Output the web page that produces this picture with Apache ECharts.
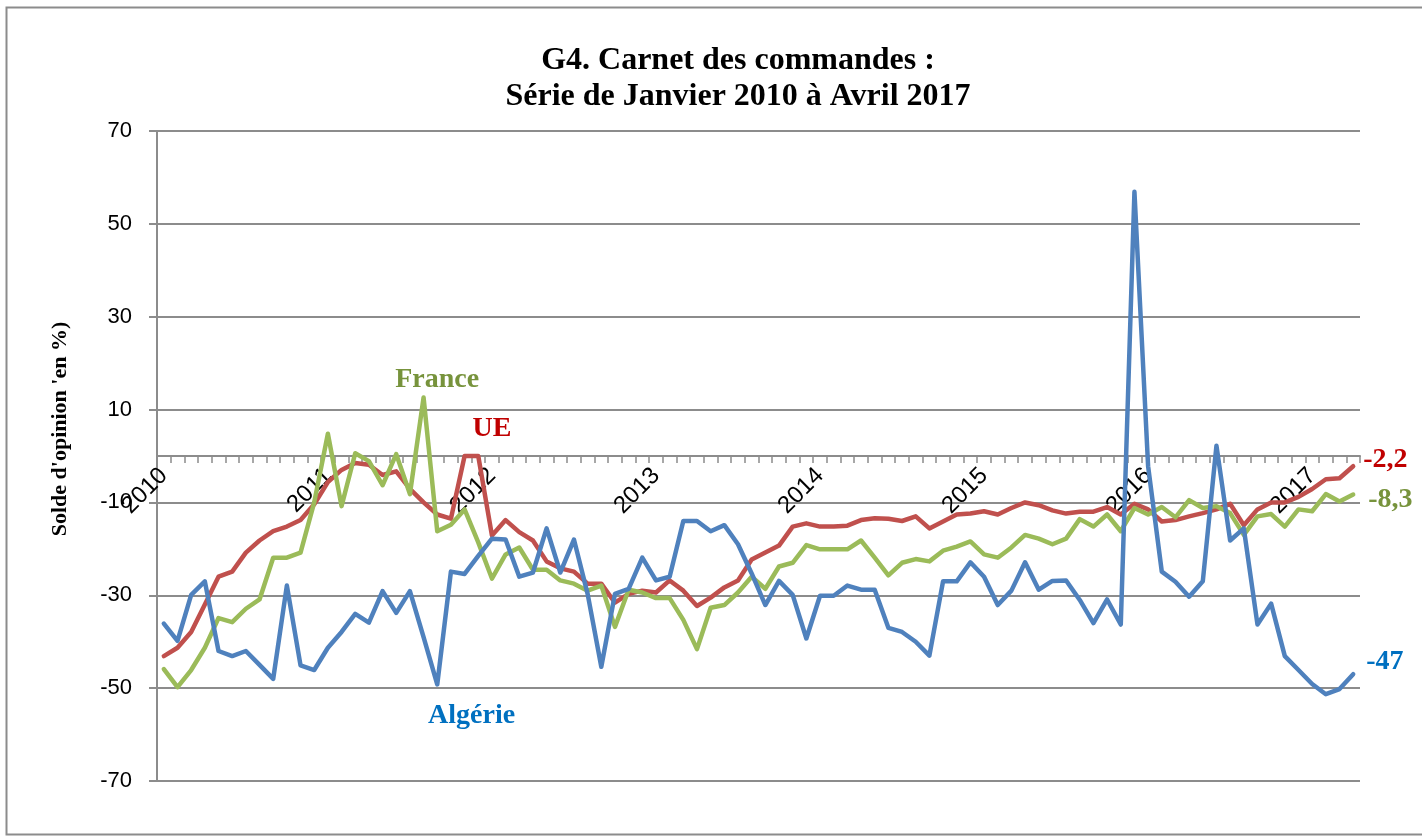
<!DOCTYPE html>
<html>
<head>
<meta charset="utf-8">
<script src="https://cdn.jsdelivr.net/npm/echarts@6/dist/echarts.min.js"></script>
<style>
  html, body { margin: 0; background: #fff; }
  #chart { width: 1422px; height: 837px; }
</style>
</head>
<body>
<div id="chart"></div>
<script>
// mois de janvier 2010 a avril 2017
const years = [2010, 2011, 2012, 2013, 2014, 2015, 2016, 2017];
const lastMonth = 4;
const months = [];
years.forEach(y => {
  for (let m = 1; m <= 12; m++) {
    if (y === 2017 && m > lastMonth) break;
    months.push(y + '-' + String(m).padStart(2, '0'));
  }
});

const algerie = [
  -36.1, -39.8, -29.9, -27.0, -42.0, -43.1, -42.0, -45.0, -48.0, -27.9, -45.1, -46.1,
  -41.3, -37.9, -34.0, -35.9, -29.1, -33.8, -29.1, -39.0, -49.2, -24.9, -25.4, -21.5,
  -17.8, -18.0, -26.0, -25.1, -15.6, -25.1, -18.0, -29.7, -45.4, -29.7, -28.6, -21.9,
  -26.8, -26.0, -14.0, -14.0, -16.2, -14.9, -19.0, -25.3, -32.1, -26.9, -29.9, -39.3,
  -30.1, -30.1, -27.9, -28.8, -28.8, -37.0, -37.9, -40.0, -43.0, -27.0, -27.0, -22.9,
  -26.0, -32.1, -29.0, -22.9, -28.8, -26.9, -26.8, -31.0, -36.0, -30.9, -36.3, 56.9,
  -2.2, -24.9, -27.1, -30.3, -27.0, 2.2, -18.2, -15.6, -36.3, -31.8, -43.1, -46.1,
  -49.1, -51.3, -50.2, -47
];
const ue = [
  -43.1, -41.3, -37.9, -32.0, -26.0, -24.9, -20.8, -18.2, -16.2, -15.2, -13.8, -10.4,
  -5.6, -3.0, -1.5, -1.9, -4.1, -3.3, -7.1, -10.0, -12.6, -13.5, 0, 0,
  -17.1, -13.8, -16.4, -18.2, -22.7, -24.2, -24.9, -27.5, -27.5, -31.6, -29.7, -29.0,
  -29.4, -26.8, -29.0, -32.3, -30.5, -28.3, -26.8, -22.3, -20.8, -19.3, -15.2, -14.5,
  -15.2, -15.2, -15.0, -13.8, -13.4, -13.5, -14.0, -13.0, -15.6, -14.1, -12.6, -12.4,
  -11.9, -12.6, -11.2, -10.0, -10.6, -11.7, -12.4, -12.0, -12.0, -11.0, -12.6, -10.3,
  -11.5, -14.1, -13.8, -13.0, -12.3, -11.5, -10.3, -14.9, -11.5, -10.0, -10.0, -8.8,
  -7.1, -5.0, -4.8, -2.2
];
const france = [
  -45.9, -49.8, -46.1, -41.3, -34.9, -35.8, -32.9, -30.9, -21.9, -21.9, -20.8, -10.0,
  4.8, -10.8, 0.6, -1.1, -6.3, 0.4, -8.2, 12.6, -16.2, -14.8, -11.5, -18.6,
  -26.4, -21.2, -19.7, -24.5, -24.5, -26.8, -27.5, -29.0, -27.9, -36.8, -28.8, -29.4,
  -30.6, -30.6, -35.3, -41.6, -32.7, -32.1, -29.4, -26.0, -28.6, -23.8, -23.0, -19.2,
  -20.1, -20.1, -20.1, -18.2, -21.9, -25.7, -23.0, -22.2, -22.7, -20.4, -19.5, -18.4,
  -21.2, -21.9, -19.7, -17.0, -17.8, -19.0, -17.8, -13.6, -15.2, -12.6, -16.2, -11.2,
  -12.6, -11.0, -13.2, -9.5, -11.2, -10.8, -12.3, -17.0, -13.0, -12.5, -15.2, -11.5,
  -11.9, -8.2, -9.8, -8.3
];
const yTicks = { min: -70, max: 70, step: 20 };

// ou poser le nom de chaque serie : [indice du mois, valeur, decalage en px]
const nameAnchors = { 'UE': [24, 5.9, 0], 'France': [20, 16.4, 0], 'Algérie': [22, -56, 7] };

const serif = 'Liberation Serif';
const grey = '#8c8c8c';
const frNum = v => String(v).replace('.', ',');

const grid = { left: 157, right: 62, top: 131, bottom: 56 };
// l'axe des mois passe par zero : on le remonte d'autant
const plotH = 837 - grid.top - grid.bottom;
const zeroShift = plotH * (0 - yTicks.min) / (yTicks.max - yTicks.min);

function serie(name, data, color, textColor, endOffset, endDist) {
  const a = nameAnchors[name];
  return {
    name, type: 'line', data, showSymbol: false, smooth: false,
    lineStyle: { width: 4.5, color, cap: 'round', join: 'round' },
    itemStyle: { color },
    endLabel: {
      show: true, formatter: p => frNum(p.value), distance: endDist, offset: endOffset,
      color: textColor, fontFamily: serif, fontWeight: 'bold', fontSize: 28
    },
    markPoint: {
      silent: true, symbol: 'circle', symbolSize: 0, animation: false,
      label: {
        show: true, position: 'inside', formatter: name, offset: [a[2], 0],
        color: textColor, fontFamily: serif, fontWeight: 'bold', fontSize: 28
      },
      data: [{ coord: [a[0], a[1]] }]
    }
  };
}

const chart = echarts.init(document.getElementById('chart'));
chart.setOption({
  animation: false,
  backgroundColor: '#fff',
  title: {
    text: 'G4. Carnet des commandes :\nSérie de Janvier 2010 à Avril 2017',
    left: 738, top: 43, textAlign: 'center', padding: 0,
    textStyle: { fontFamily: serif, fontWeight: 'bold', fontSize: 32, lineHeight: 36, color: '#000' }
  },
  graphic: [
    { type: 'rect', silent: true, shape: { x: 6.5, y: 7.5, width: 1430, height: 827 },
      style: { fill: null, stroke: grey, lineWidth: 2 } },
    { type: 'text', silent: true, x: 60, y: 429, rotation: Math.PI / 2,
      style: { text: "Solde d'opinion 'en %)", fontFamily: serif, fontWeight: 'bold', fontSize: 22,
        fill: '#000', align: 'center', verticalAlign: 'middle' } }
  ],
  grid: Object.assign({ outerBoundsMode: 'none', containLabel: false }, grid),
  xAxis: {
    type: 'category', data: months, boundaryGap: true,
    offset: -zeroShift,
    axisLine: { onZero: false, lineStyle: { color: grey, width: 2 } },
    axisTick: { show: true, interval: 0, length: 7, lineStyle: { color: grey, width: 1.5 } },
    axisLabel: {
      interval: 0, rotate: 45, margin: 16,
      formatter: v => v.endsWith('-01') ? v.slice(0, 4) : '',
      fontFamily: 'Liberation Sans', fontSize: 24, color: '#000'
    },
    splitLine: { show: false }
  },
  yAxis: {
    type: 'value', min: yTicks.min, max: yTicks.max, interval: yTicks.step,
    axisLine: { show: true, lineStyle: { color: grey, width: 2 } },
    axisTick: { show: true, length: 8, lineStyle: { color: grey, width: 2 } },
    axisLabel: { margin: 25, fontFamily: 'Liberation Sans', fontSize: 22, color: '#000' },
    splitLine: { lineStyle: { color: grey, width: 2 } }
  },
  series: [
    serie('UE', ue, '#C0504D', '#C00000', [0, -6], 10),
    serie('France', france, '#9BBB59', '#77933C', [0, 5], 15),
    serie('Algérie', algerie, '#4F81BD', '#0070C0', [0, -12], 13)
  ]
});
</script>
</body>
</html>
